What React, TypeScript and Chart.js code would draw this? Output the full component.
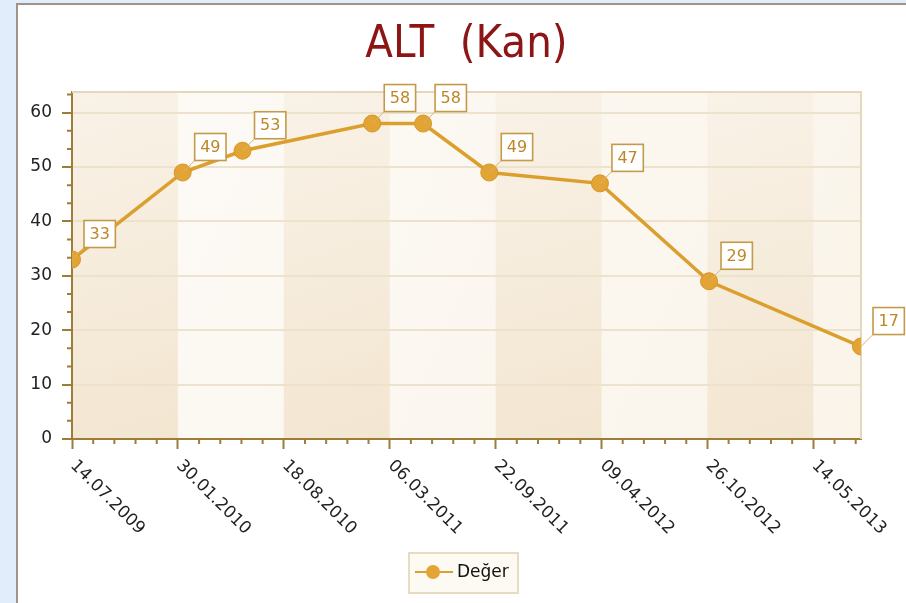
import React, { useEffect, useRef } from 'react';
import { Chart, registerables } from 'chart.js';

Chart.register(...registerables);

// ---- data ----
const titleText = 'ALT  (Kan)';
const seriesName = 'Değer';
const pointDates = ['14.07.2009', '08.02.2010', '01.06.2010', '01.02.2011', '08.05.2011', '10.09.2011', '06.04.2012', '29.10.2012', '12.08.2013'];
const pointValues = [33, 49, 53, 58, 58, 49, 47, 29, 17];
const yMin = 0;
const yMax = 63.8;
const yMajorStep = 10;
const yMinorPerMajor = 3;
const xMajorStepDays = 200;
const xMinorStepDays = 40;

const DAY_MS = 86400000;
function parseDate(s: string): number {
  const [d, m, y] = s.split('.').map(Number);
  return Date.UTC(y, m - 1, d) / DAY_MS;
}
const baseDay = parseDate(pointDates[0]);
const dayOffsets = pointDates.map((d) => parseDate(d) - baseDay);
function formatDay(off: number): string {
  const dt = new Date((baseDay + off) * DAY_MS);
  const dd = String(dt.getUTCDate()).padStart(2, '0');
  const mm = String(dt.getUTCMonth() + 1).padStart(2, '0');
  return `${dd}.${mm}.${dt.getUTCFullYear()}`;
}

const FONT = 'DejaVu Sans';
const TITLE_FONT = '"DejaVu Sans Condensed", "DejaVu Sans"';
const AXIS_COLOR = '#9e7d3a';
const LINE_COLOR = '#dc9f2e';
const POINT_COLOR = '#e2a535';

const framePlugin = {
  id: 'frame',
  beforeDraw(chart: any) {
    const { ctx, width, height, chartArea: a } = chart;
    ctx.save();
    ctx.fillStyle = '#e2edfb';
    ctx.fillRect(0, 0, width, height);
    ctx.fillStyle = '#ffffff';
    ctx.fillRect(16, 3, width - 16, height - 3);
    ctx.fillStyle = '#a09288';
    ctx.fillRect(16, 3, 2, height - 3);
    ctx.fillRect(16, 3, width - 16, 2);
    // plot background with interlaced stripes
    const xs = chart.scales.x;
    const lg = ctx.createLinearGradient(a.left, a.top, a.right, a.bottom);
    lg.addColorStop(0, '#fdfbf7');
    lg.addColorStop(1, '#faf4ea');
    ctx.fillStyle = lg;
    ctx.fillRect(a.left, a.top, a.right - a.left, a.bottom - a.top);
    const maxV = xs.max;
    for (let s = 0, k = 0; s < maxV; s += xMajorStepDays, k++) {
      if (k % 2 !== 0) continue;
      const x0 = xs.getPixelForValue(s);
      const x1 = Math.min(xs.getPixelForValue(s + xMajorStepDays), a.right);
      const g = ctx.createLinearGradient(x0, a.top, x1, a.bottom);
      g.addColorStop(0, '#f9f2e7');
      g.addColorStop(1, '#f3e6d1');
      ctx.fillStyle = g;
      ctx.fillRect(x0, a.top, x1 - x0, a.bottom - a.top);
    }
    ctx.restore();
  },
  beforeDatasetsDraw(chart: any) {
    const { ctx, chartArea: a } = chart;
    ctx.save();
    ctx.strokeStyle = '#e4d7bb';
    ctx.lineWidth = 2;
    ctx.beginPath();
    ctx.moveTo(a.left, a.top);
    ctx.lineTo(a.right, a.top);
    ctx.lineTo(a.right, a.bottom);
    ctx.stroke();
    ctx.restore();
  },
  afterDraw(chart: any) {
    const { ctx, chartArea: a } = chart;
    const xs = chart.scales.x;
    const ys = chart.scales.y;
    ctx.save();
    // minor ticks
    ctx.strokeStyle = AXIS_COLOR;
    ctx.lineWidth = 2;
    ctx.beginPath();
    const yMinorStep = yMajorStep / yMinorPerMajor;
    for (let i = 0; i * yMinorStep <= yMax + 1e-9; i++) {
      if (i % yMinorPerMajor === 0) continue;
      const y = ys.getPixelForValue(i * yMinorStep);
      ctx.moveTo(a.left - 5, y);
      ctx.lineTo(a.left, y);
    }
    const perMajor = xMajorStepDays / xMinorStepDays;
    for (let i = 0; i * xMinorStepDays <= xs.max + 1e-9; i++) {
      if (i % perMajor === 0) continue;
      const x = xs.getPixelForValue(i * xMinorStepDays);
      ctx.moveTo(x, a.bottom);
      ctx.lineTo(x, a.bottom + 5);
    }
    ctx.stroke();

    // rotated x labels
    ctx.fillStyle = '#222222';
    ctx.font = `17px "${FONT}"`;
    ctx.textAlign = 'left';
    ctx.textBaseline = 'middle';
    xs.ticks.forEach((t: any) => {
      const x = xs.getPixelForValue(t.value);
      ctx.save();
      ctx.translate(x + 1, a.bottom + 24);
      ctx.rotate(Math.PI / 4);
      ctx.fillText(formatDay(t.value), 0, 0);
      ctx.restore();
    });

    // data labels
    const meta = chart.getDatasetMeta(0);
    ctx.font = `16px "${FONT}"`;
    meta.data.forEach((pt: any, i: number) => {
      const px = pt.x;
      const py = pt.y;
      const txt = String(pointValues[i]);
      const w = ctx.measureText(txt).width + 11;
      const h = 27;
      const bx = px + 12;
      const by = py - 12;
      ctx.strokeStyle = '#d8b366';
      ctx.lineWidth = 1;
      ctx.beginPath();
      ctx.moveTo(px, py);
      ctx.lineTo(bx, by);
      ctx.stroke();
      ctx.fillStyle = '#ffffff';
      ctx.fillRect(bx, by - h, w, h);
      ctx.strokeStyle = '#c49a48';
      ctx.lineWidth = 1.6;
      ctx.strokeRect(bx, by - h, w, h);
      ctx.fillStyle = '#bd8626';
      ctx.textAlign = 'center';
      ctx.textBaseline = 'middle';
      ctx.fillText(txt, bx + w / 2, by - h / 2 + 1);
    });

    // legend
    const lx = 409, ly = 553, lw = 109, lh = 40;
    ctx.fillStyle = '#fdfaf3';
    ctx.fillRect(lx, ly, lw, lh);
    ctx.strokeStyle = '#e8dcc0';
    ctx.lineWidth = 2;
    ctx.strokeRect(lx, ly, lw, lh);
    ctx.strokeStyle = LINE_COLOR;
    ctx.lineWidth = 2;
    ctx.beginPath();
    ctx.moveTo(415, 572);
    ctx.lineTo(453, 572);
    ctx.stroke();
    ctx.fillStyle = POINT_COLOR;
    ctx.beginPath();
    ctx.arc(433, 572, 7, 0, Math.PI * 2);
    ctx.fill();
    ctx.fillStyle = '#111111';
    ctx.font = `17px "${FONT}"`;
    ctx.textAlign = 'left';
    ctx.textBaseline = 'middle';
    ctx.fillText(seriesName, 457, 573);
    ctx.restore();
  },
};

export default function App() {
  const ref = useRef<HTMLCanvasElement>(null);
  useEffect(() => {
    Chart.defaults.font.family = FONT;
    const data = dayOffsets.map((d, i) => ({ x: d, y: pointValues[i] }));
    const chart = new Chart(ref.current as HTMLCanvasElement, {
      type: 'line',
      data: {
        datasets: [
          {
            label: seriesName,
            data,
            borderColor: LINE_COLOR,
            borderWidth: 3.5,
            pointRadius: 8.5,
            pointBackgroundColor: POINT_COLOR,
            pointBorderColor: '#d4962a',
            pointBorderWidth: 1,
            tension: 0,
            clip: 0,
          } as any,
        ],
      },
      options: {
        animation: false,
        responsive: false,
        events: [],
        layout: { padding: { left: 0, right: 45, top: 0, bottom: 0 } },
        plugins: {
          legend: { display: false },
          tooltip: { enabled: false },
          title: {
            display: true,
            text: titleText,
            color: '#8c1616',
            fullSize: false,
            font: { family: TITLE_FONT, size: 45, weight: 'normal', lineHeight: 1.2 },
            padding: { top: 18, bottom: 20 },
          },
        },
        scales: {
          x: {
            type: 'linear',
            min: 0,
            max: dayOffsets[dayOffsets.length - 1],
            ticks: { display: false, stepSize: xMajorStepDays, includeBounds: false },
            grid: {
              drawOnChartArea: false,
              drawTicks: true,
              tickLength: 10,
              tickColor: AXIS_COLOR,
              tickWidth: 2,
            },
            border: { display: true, color: AXIS_COLOR, width: 2 },
            afterFit: (s: any) => {
              s.height = 164;
            },
          },
          y: {
            type: 'linear',
            min: yMin,
            max: yMax,
            ticks: {
              stepSize: yMajorStep,
              includeBounds: false,
              color: '#222222',
              padding: 10,
              font: { family: FONT, size: 17 },
            },
            grid: {
              color: '#ede2cc',
              lineWidth: 2,
              drawTicks: true,
              tickLength: 10,
              tickColor: AXIS_COLOR,
              tickWidth: 2,
            },
            border: { display: true, color: AXIS_COLOR, width: 2 },
            afterFit: (s: any) => {
              s.width = 72;
            },
          },
        },
      },
      plugins: [framePlugin],
    });
    return () => chart.destroy();
  }, []);
  return (
    <div style={{ position: 'fixed', left: 0, top: 0, width: 906, height: 603 }}>
      <canvas ref={ref} width={906} height={603} style={{ display: 'block', width: 906, height: 603 }} />
    </div>
  );
}
